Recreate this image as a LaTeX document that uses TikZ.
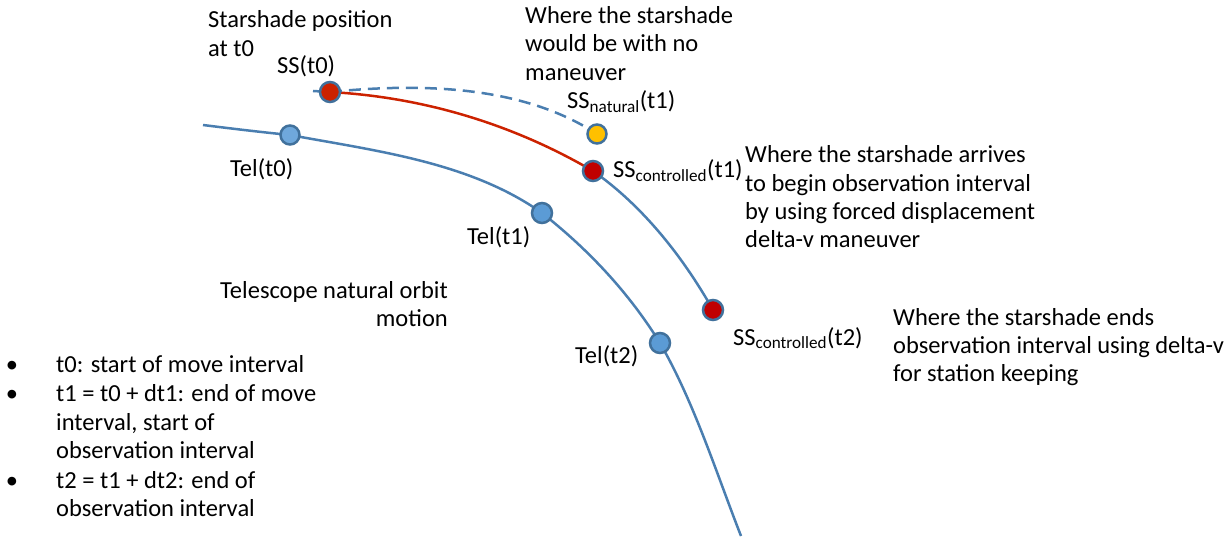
\documentclass[tikz,border=0pt]{standalone}
\usepackage{fontspec}
\setmainfont{Carlito}
\usetikzlibrary{positioning,calc}
\definecolor{orbitblue}{RGB}{74,126,176}
\definecolor{dotedge}{RGB}{65,113,156}
\definecolor{telfill}{RGB}{91,155,213}
\definecolor{telfilllt}{RGB}{111,168,220}
\definecolor{ssred}{RGB}{192,0,0}
\definecolor{ssredlt}{RGB}{204,34,0}
\definecolor{moveline}{RGB}{204,34,0}
\definecolor{ssyellow}{RGB}{255,192,0}
\tikzset{
  orbit/.style={line width=2.5pt, draw=orbitblue},
  moved/.style={line width=2.5pt, draw=moveline},
  drift/.style={line width=2.5pt, draw=orbitblue, dash pattern=on 12pt off 7pt},
  posdot/.style={circle, draw=dotedge, line width=2.5pt, inner sep=0pt, minimum size=20pt},
  teldot/.style={posdot, fill=telfill},
  ssdot/.style={posdot, fill=ssred},
  lbl/.style={inner sep=0pt, anchor=base west, font=\fontsize{24.5}{28.3}\selectfont},
  note/.style={lbl, align=left}
}
\newcommand{\subtxt}[1]{\textsubscript{#1}}

\begin{document}
\begin{tikzpicture}[x=1pt,y=-1pt]
  \useasboundingbox (0,0) rectangle (1230,537);
  % positions along the orbits
  \coordinate (tstart) at (203,125);
  \coordinate (tel0) at (290,135);
  \coordinate (tel1) at (542,213);
  \coordinate (tel2) at (660,343);
  \coordinate (tend) at (741,536);
  \coordinate (sstail) at (313,91);
  \coordinate (ss0) at (330,92);
  \coordinate (ssn1) at (597,134);
  \coordinate (ssc1) at (593,171);
  \coordinate (ssc2) at (713,310);

  \draw[orbit] (tstart) .. controls (235,129) and (260,132) .. (tel0)
    .. controls (376,151) and (470,162) .. (tel1)
    .. controls (589,250) and (629,293) .. (tel2)
    .. controls (694,402) and (716,472) .. (tend);
  \draw[orbit] (sstail) -- (ss0);
  \draw[moved] (ss0) .. controls (421,97) and (511,123) .. (ssc1);
  \draw[orbit] (ssc1) .. controls (643,206) and (683,257) .. (ssc2);
  \draw[drift] (ss0) .. controls (420,83) and (522,85) .. (ssn1);

  \node[teldot, fill=telfilllt, minimum size=19pt] (tel0dot) at (tel0) {};
  \node[teldot] (tel1dot) at (tel1) {};
  \node[teldot] (tel2dot) at (tel2) {};
  \node[ssdot, fill=ssredlt] (ss0dot) at (ss0) {};
  \node[posdot, fill=ssyellow, minimum size=19pt] (ssn1dot) at (ssn1) {};
  \node[ssdot] (ssc1dot) at (ssc1) {};
  \node[ssdot] (ssc2dot) at (ssc2) {};

  % labels (multi-line notes sit on their last baseline)
  \node[note] (ssstart) at (208,56.3) {Starshade position\\at t0};
  \node[lbl] (ss0lbl) at (277,74) {SS(t0)};
  \node[note] (natnote) at (525,80.1) {Where the starshade\\would be with no\\maneuver};
  \node[lbl] (ssn1lbl) at (567,109) {SS\subtxt{natural}(t1)};
  \node[lbl] (tel0lbl) at (230,177) {Tel(t0)};
  \node[lbl] (ssc1lbl) at (613,178) {SS\subtxt{controlled}(t1)};
  \node[note] (arrnote) at (745,247.9) {Where the starshade arrives\\to begin observation interval\\by using forced displacement\\delta-v maneuver};
  \node[lbl] (tel1lbl) at (467,244) {Tel(t1)};
  \node[lbl, anchor=base east, align=right] (orbnote) at (448,326.3) {Telescope natural orbit\\motion};
  \node[lbl] (ssc2lbl) at (733,345) {SS\subtxt{controlled}(t2)};
  \node[note] (endnote) at (893,381.6) {Where the starshade ends\\observation interval using delta-v\\for station keeping};
  \node[lbl] (tel2lbl) at (575,363) {Tel(t2)};

  % time list
  \foreach \by [count=\i] in {372,401.7,488}
    \node[lbl, anchor=base] (bul\i) at (12,\by) {\textbullet};
  \node[note] (item1) at (56,372) {t0: start of move interval};
  \node[note] (item2) at (56,458.3) {t1 = t0 + dt1: end of move\\interval, start of\\observation interval};
  \node[note] (item3) at (56,516.3) {t2 = t1 + dt2: end of\\observation interval};
\end{tikzpicture}
\end{document}
